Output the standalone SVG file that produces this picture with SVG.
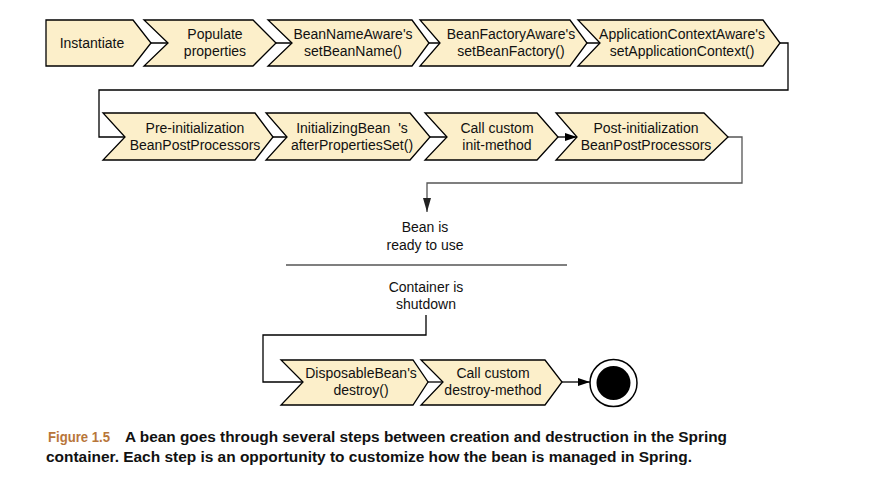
<svg xmlns="http://www.w3.org/2000/svg" width="876" height="499" viewBox="0 0 876 499">
<defs>
<marker id="arr" markerWidth="12" markerHeight="8" refX="12" refY="4" orient="auto" markerUnits="userSpaceOnUse">
<path d="M0,0 L12,4 L0,8 Z" fill="#000"/>
</marker>
<marker id="arrg" markerWidth="14" markerHeight="8" refX="14" refY="4" orient="auto" markerUnits="userSpaceOnUse">
<path d="M0,0 L14,4 L0,8 Z" fill="#222"/>
</marker>
<style>
.s{fill:#fcefca;stroke:#000;stroke-width:1.3}
.t{font-family:"Liberation Sans",Arial,sans-serif;font-size:14px;fill:#111;text-anchor:middle}
.c{fill:none;stroke:#000;stroke-width:1.3}
.cap{font-family:"Liberation Sans",Arial,sans-serif;font-size:14px;font-weight:bold;fill:#111}
</style>
</defs>
<rect width="876" height="499" fill="#fff"/>
<g id="connectors">
<path class="c" d="M151,43 H168 M276,43 H292 M429,43 H440 M587,43 H600"/>
<path class="c" d="M780,43 H788 V90 H99 V137 H125"/>
<path class="c" d="M273,137 H287 M430,137 H447"/>
<path class="c" d="M558,137 H577" marker-end="url(#arr)"/>
<path class="c" style="stroke:#555" d="M728,137 H742 V183 H427 V212" marker-end="url(#arrg)"/>
<line x1="286" y1="265" x2="567" y2="265" stroke="#000" stroke-width="1.2"/>
<path class="c" d="M426,315 V335 H263 V382 H303"/>
<path class="c" d="M428,382 H443"/>
<path class="c" d="M562,382 H590" marker-end="url(#arr)"/>
</g>
<g id="instantiate"><path class="s" d="M46,20 H133 L151,43 L133,66 H46 Z"/><text class="t" x="92" y="48">Instantiate</text></g>
<g id="populate"><path class="s" d="M144,20 H253 L276,43 L253,66 H144 L168,43 Z"/><text class="t" x="215" y="39">Populate</text><text class="t" x="215" y="56">properties</text></g>
<g id="beannameaware"><path class="s" d="M268,20 H412 L429,43 L412,66 H268 L292,43 Z"/><text class="t" x="353" y="39">BeanNameAware's</text><text class="t" x="353" y="56">setBeanName()</text></g>
<g id="beanfactoryaware"><path class="s" d="M420,20 H570 L587,43 L570,66 H420 L440,43 Z"/><text class="t" x="511" y="39">BeanFactoryAware's</text><text class="t" x="511" y="56">setBeanFactory()</text></g>
<g id="appcontextaware"><path class="s" d="M578,20 H763 L780,43 L763,66 H578 L600,43 Z"/><text class="t" x="682" y="39">ApplicationContextAware's</text><text class="t" x="682" y="56">setApplicationContext()</text></g>
<g id="preinit"><path class="s" d="M103,113 H255 L273,137 L255,160 H103 L125,137 Z"/><text class="t" x="195" y="133">Pre-initialization</text><text class="t" x="195" y="150">BeanPostProcessors</text></g>
<g id="initializingbean"><path class="s" d="M266,113 H410 L430,137 L410,160 H266 L287,137 Z"/><text class="t" x="352" y="133" xml:space="preserve">InitializingBean  's</text><text class="t" x="352" y="150">afterPropertiesSet()</text></g>
<g id="initmethod"><path class="s" d="M425,113 H537 L558,137 L537,160 H425 L447,137 Z"/><text class="t" x="497" y="133">Call custom</text><text class="t" x="497" y="150">init-method</text></g>
<g id="postinit"><path class="s" d="M556,113 H704 L728,137 L704,160 H556 L577,137 Z"/><text class="t" x="646" y="133">Post-initialization</text><text class="t" x="646" y="150">BeanPostProcessors</text></g>
<g id="ready"><text class="t" x="425" y="232">Bean is</text><text class="t" x="425" y="250">ready to use</text></g>
<g id="shutdown"><text class="t" x="426" y="292">Container is</text><text class="t" x="426" y="309">shutdown</text></g>
<g id="disposable"><path class="s" d="M281,360 H413 L428,382 L413,405 H281 L303,382 Z"/><text class="t" x="361" y="378">DisposableBean's</text><text class="t" x="361" y="395">destroy()</text></g>
<g id="destroymethod"><path class="s" d="M421,360 H545 L562,382 L545,405 H421 L443,382 Z"/><text class="t" x="493" y="378">Call custom</text><text class="t" x="493" y="395">destroy-method</text></g>
<g id="final"><circle cx="613.5" cy="383" r="23.5" fill="#fff" stroke="#000" stroke-width="1.5"/><circle cx="613.5" cy="383" r="17" fill="#000"/></g>
<g id="caption">
<text class="cap" x="48" y="442" style="fill:#b8763a" textLength="62" lengthAdjust="spacingAndGlyphs">Figure 1.5</text>
<text class="cap" x="125" y="442" textLength="602" lengthAdjust="spacingAndGlyphs">A bean goes through several steps between creation and destruction in the Spring</text>
<text class="cap" x="46" y="462" textLength="646" lengthAdjust="spacingAndGlyphs">container. Each step is an opportunity to customize how the bean is managed in Spring.</text>
</g>
</svg>
